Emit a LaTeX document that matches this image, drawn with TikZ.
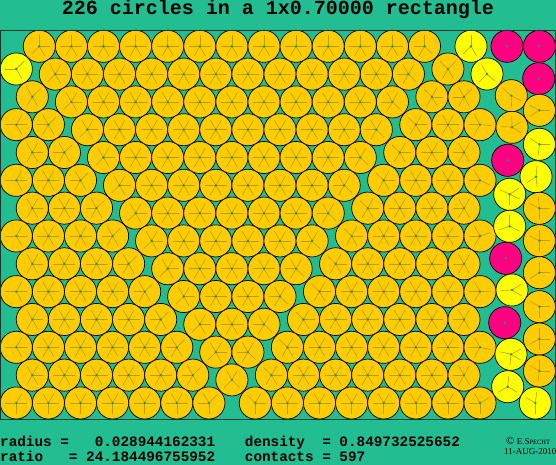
\documentclass[tikz,border=0pt]{standalone}
\usepackage{fontspec}
\usepackage{tikz}
\usetikzlibrary{calc}
\newfontfamily\codefont{Liberation Mono}
\newfontfamily\signfont{Liberation Serif}
\definecolor{bgTeal}{RGB}{34, 190, 146}
\definecolor{discO}{RGB}{255, 204, 0}
\definecolor{discY}{RGB}{255, 255, 0}
\definecolor{discM}{RGB}{255, 0, 128}
\definecolor{spokeOlive}{RGB}{190, 155, 0}
\definecolor{dotTeal}{RGB}{20, 150, 140}
\definecolor{frameDark}{RGB}{25, 55, 45}

% store disc centres as cx<n>, cy<n>, cc<n>
\newcount\ncirc
\newcommand{\addcirc}[3]{%
  \global\advance\ncirc by 1
  \expandafter\xdef\csname cx\the\ncirc\endcsname{#1}%
  \expandafter\xdef\csname cy\the\ncirc\endcsname{#2}%
  \expandafter\xdef\csname cc\the\ncirc\endcsname{#3}}

\begin{document}
\begin{tikzpicture}[x=1pt, y=-1pt,
    disc/.style={draw=black, line width=0.7pt},
    spoke/.style={draw=spokeOlive, line width=0.6pt},
    stat/.style={inner sep=0pt, anchor=base west, font={\codefont\bfseries\fontsize{14.33}{16}\selectfont}},
    sign/.style={inner sep=0pt, anchor=base west, font={\signfont\fontsize{9}{10}\selectfont}}]
  \useasboundingbox (0,0) rectangle (556,465);
  \fill[bgTeal] (0,0) rectangle (556,465);

  % left grain, yellow one in the corner
  \addcirc{16.3}{69}{Y}
  \foreach \k in {1,...,12} {
    \pgfmathsetmacro\yy{69+27.83*\k}
    \pgfmathtruncatemacro\lastm{floor(\k/2)}
    \foreach \m in {0,...,\lastm} {
      \pgfmathsetmacro\xx{(isodd(\k) ? 32.3 : 16.3)+32.1*\m}
      \addcirc{\xx}{\yy}{O}
    }
  }

  % middle grain
  \foreach \j in {0,...,12} {
    \pgfmathsetmacro\yy{46.3+27.8*\j}
    \pgfmathtruncatemacro\firstm{floor(\j/2)+1}
    \pgfmathtruncatemacro\lastm{13-floor((\j+1)/2)}
    \foreach \m in {\firstm,...,\lastm} {
      \pgfmathsetmacro\xx{(isodd(\j) ? 23.2 : 7.2)+32.1*\m}
      \addcirc{\xx}{\yy}{O}
    }
  }

  % right grain
  \foreach \k in {0,...,12} {
    \pgfmathsetmacro\yy{69+27.83*\k}
    \pgfmathtruncatemacro\firstm{13-floor(\k/2)}
    \pgfmathtruncatemacro\lastm{\k==0 ? 13 : 14}
    \foreach \m in {\firstm,...,\lastm} {
      \pgfmathsetmacro\xx{(isodd(\k) ? 14.6 : 30.6)+32.1*\m}
      \addcirc{\xx}{\yy}{O}
    }
  }

  % loose ones along the right side
  \foreach \xx/\yy/\kind in {471/46.3/Y, 507/46.3/M, 539.4/46.3/M, 487/74/Y,
      538.7/78.7/M, 511.3/95.7/O, 539.4/110.3/O, 512/127.3/O, 539.4/144.3/Y,
      507.7/160.3/M, 536/176.7/Y, 509.7/194.3/Y, 539.4/208.3/O, 509.7/226.3/Y,
      539.4/240.7/O, 505.7/258.3/M, 539.4/272.7/O, 512/290/Y, 539.4/306.7/O,
      504.7/322.7/M, 539.4/339/O, 511/354.3/Y, 539.4/371/O, 507.7/386.7/Y,
      535.3/403/Y}
    \addcirc{\xx}{\yy}{\kind};
  \edef\ntot{\the\ncirc}

  % discs
  \foreach \i in {1,...,\ntot} {
    \edef\kind{\csname cc\i\endcsname}
    \filldraw[disc, fill=disc\kind] (\csname cx\i\endcsname,\csname cy\i\endcsname) circle[radius=16.06];
  }

  % spokes toward touching discs and walls
  \foreach \i in {1,...,\ntot} {
    \edef\xa{\csname cx\i\endcsname}\edef\ya{\csname cy\i\endcsname}\edef\ca{\csname cc\i\endcsname}
    \if M\ca\else
      \ifdim\xa pt<17.6pt \draw[spoke] (\xa,\ya) -- ++(-11,0); \fi
      \ifdim\xa pt>538.4pt \draw[spoke] (\xa,\ya) -- ++(11,0); \fi
      \ifdim\ya pt<47.4pt \draw[spoke] (\xa,\ya) -- ++(0,-11); \fi
      \ifdim\ya pt>401.9pt \draw[spoke] (\xa,\ya) -- ++(0,11); \fi
      \foreach \j in {1,...,\ntot} {
        \edef\xb{\csname cx\j\endcsname}\edef\yb{\csname cy\j\endcsname}\edef\cb{\csname cc\j\endcsname}
        \ifdim\dimexpr\xb pt-\xa pt\relax<33pt \ifdim\dimexpr\xa pt-\xb pt\relax<33pt
        \ifdim\dimexpr\yb pt-\ya pt\relax<33pt \ifdim\dimexpr\ya pt-\yb pt\relax<33pt
        \ifnum\i=\j\relax\else \if M\cb\else
          \pgfmathparse{veclen(\xb-\xa,\yb-\ya)}
          \ifdim\pgfmathresult pt<33pt
            \draw[spoke] (\xa,\ya) -- ($(\xa,\ya)!11pt!(\xb,\yb)$);
          \fi
        \fi\fi
        \fi\fi\fi\fi
      }
    \fi
  }

  % centre dots
  \foreach \i in {1,...,\ntot}
    \fill[dotTeal] (\csname cx\i\endcsname,\csname cy\i\endcsname) circle[radius=1.3];

  % container
  \draw[frameDark, line width=1pt] (0.5,30.5) rectangle (555.5,419);

  % title and figures
  \node[anchor=base, inner sep=0pt, font={\codefont\bfseries\fontsize{20}{24}\selectfont}] (title) at (278,14.5) {226 circles in a 1x0.70000 rectangle};
  \node[stat] (radius) at (0,446) {radius =\ \ \ 0.028944162331};
  \node[stat] (ratio) at (0,461) {ratio\ \ \ = 24.184496755952};
  \node[stat] (density) at (244.7,446) {density\ \ = 0.849732525652};
  \node[stat] (contacts) at (244.7,461) {contacts = 597};
  \node[sign] (author) at (506,444.5) {{\fontsize{11}{11}\selectfont\textcopyright}\ E.S{\fontsize{6.5}{7}\selectfont PECHT}};
  \node[sign] (date) at (504,454.5) {11-AUG-2010};
\end{tikzpicture}
\end{document}
